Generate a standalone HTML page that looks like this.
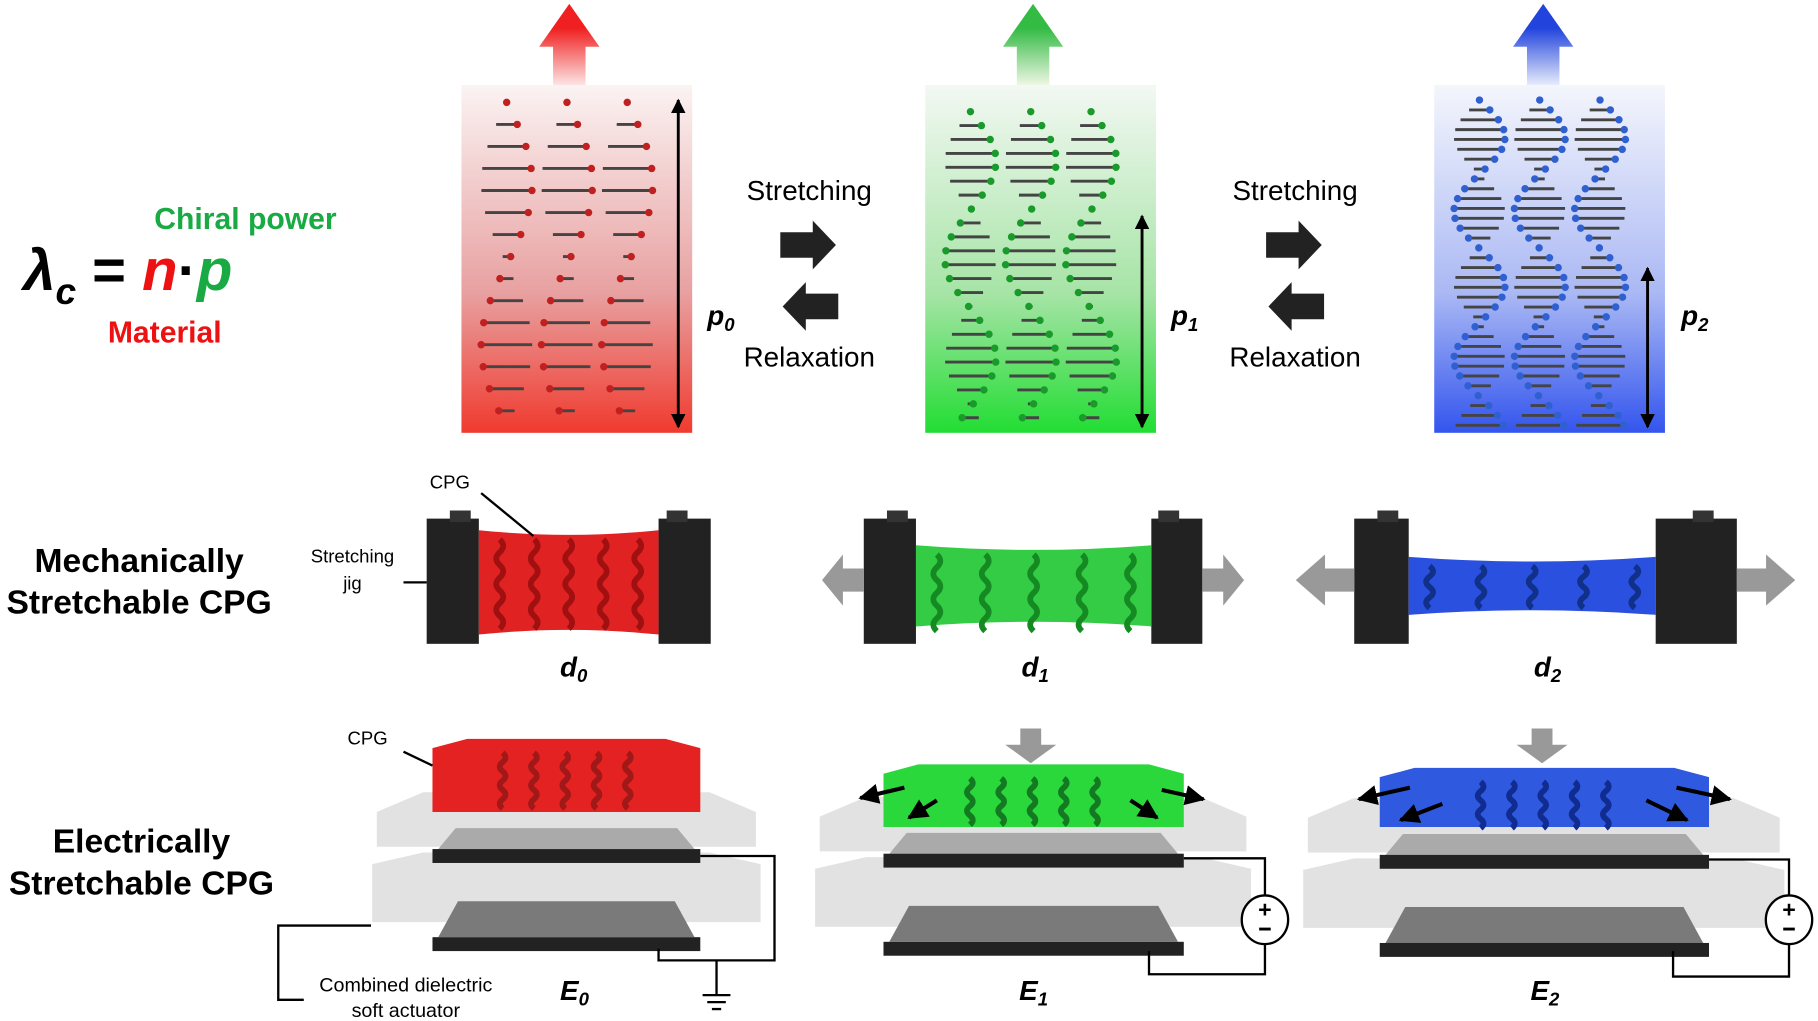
<!DOCTYPE html>
<html><head><meta charset="utf-8"><style>
html,body{margin:0;padding:0;background:#fff;width:1818px;height:1021px;overflow:hidden}
svg{display:block}
text{font-family:"Liberation Sans",sans-serif}
</style></head><body>
<svg id="s" width="1818" height="1021" viewBox="0 0 1568 880" xmlns="http://www.w3.org/2000/svg">
<defs>
<linearGradient id="gr" x1="0" y1="0" x2="0" y2="1"><stop offset="0" stop-color="#fbf3f3"/><stop offset="0.6" stop-color="#e8a0a0"/><stop offset="1" stop-color="#f03a2e"/></linearGradient>
<linearGradient id="gg" x1="0" y1="0" x2="0" y2="1"><stop offset="0" stop-color="#f3f8f3"/><stop offset="0.6" stop-color="#a6e4a6"/><stop offset="1" stop-color="#22dd33"/></linearGradient>
<linearGradient id="gb" x1="0" y1="0" x2="0" y2="1"><stop offset="0" stop-color="#f4f6fc"/><stop offset="0.6" stop-color="#aab8f4"/><stop offset="1" stop-color="#3355ee"/></linearGradient>
<linearGradient id="ar" x1="0" y1="0" x2="0" y2="1"><stop offset="0.3" stop-color="#f02020"/><stop offset="1" stop-color="#fde4e4"/></linearGradient>
<linearGradient id="ag" x1="0" y1="0" x2="0" y2="1"><stop offset="0.3" stop-color="#33bb44"/><stop offset="1" stop-color="#eef6e4"/></linearGradient>
<linearGradient id="ab" x1="0" y1="0" x2="0" y2="1"><stop offset="0.3" stop-color="#2244dd"/><stop offset="1" stop-color="#e6ecfa"/></linearGradient>
<marker id="ah" viewBox="0 0 10 10" refX="9" refY="5" markerWidth="5" markerHeight="5" orient="auto-start-reverse"><path d="M0,0L10,5L0,10z" fill="#000"/></marker>
</defs>
</svg>
<script>
var s=document.getElementById('s');var NS='http://www.w3.org/2000/svg';
function el(t,a,txt){var e=document.createElementNS(NS,t);for(var k in a)e.setAttribute(k,a[k]);if(txt!=null)e.textContent=txt;s.appendChild(e);return e;}
[[398,'gr','ar',465,'#c02020'],[798,'gg','ag',865,'#1a9a2a'],[1237,'gb','ab',1305,'#3060d0']].forEach(function(b,i){
 var x=b[0];
 el('path',{d:'M'+(b[3]+12)+',70 V40 H'+b[3]+' L'+(b[3]+26)+',3 L'+(b[3]+52)+',40 H'+(b[3]+40)+' V73 H'+(b[3]+12)+'z',fill:'url(#'+b[2]+')'});
 el('rect',{x:x,y:73,width:199,height:300,fill:'url(#'+b[1]+')'});
 var sp=[19,12,8.5][i],hp=[140,85,64][i],off=[88,96,86][i];
 for(var c=0;c<3;c++){var cx=x+39+c*52;
  for(var y=off;y<370;y+=sp){var L=22*Math.abs(Math.sin(Math.PI*(y-off)/hp));
   var ph=Math.floor((y-off)/hp)%2;
   el('line',{x1:cx-L,y1:y,x2:cx+L,y2:y,stroke:'#444',"stroke-width":2.5});
   el('circle',{cx:ph?cx-L:cx+L,cy:y,r:3.2,fill:b[4]});
  }}
});
[[585,83,0,610],[985,183,1,1010],[1421,228,2,1450]].forEach(function(a){
 el('line',{x1:a[0],y1:a[1]+3,x2:a[0],y2:368,stroke:'#000',"stroke-width":2.5,"marker-start":'url(#ah)',"marker-end":'url(#ah)'});
 var t=el('text',{x:a[3],y:280,"font-size":24,"font-weight":"bold","font-style":"italic"},'p');
 var ts=document.createElementNS(NS,'tspan');ts.setAttribute('font-size',16);ts.setAttribute('dy',5);ts.textContent=a[2];t.appendChild(ts);
});
[698,1117].forEach(function(x){
 el('text',{x:x,y:172,"font-size":24,"text-anchor":"middle"},'Stretching');
 el('text',{x:x,y:316,"font-size":24,"text-anchor":"middle"},'Relaxation');
 var l=x-25;
 el('path',{d:'M'+l+',200 h28 v-10 l20,21 l-20,21 v-10 h-28z',fill:'#222'});
 el('path',{d:'M'+(l+50)+',253 h-28 v-10 l-20,21 l20,21 v-10 h28z',fill:'#222'});
});
el('text',{x:133,y:197,"font-size":26,"font-weight":"bold",fill:'#1aaa44'},'Chiral power');
el('text',{x:93,y:295,"font-size":26,"font-weight":"bold",fill:'#ee1111'},'Material');
var f=el('text',{x:20,y:250,"font-size":50,"font-weight":"bold","font-style":"italic"});
f.innerHTML='<tspan>λ</tspan><tspan font-size="32" dy="12">c</tspan><tspan dy="-12" font-style="normal"> = </tspan><tspan fill="#ee1111">n</tspan><tspan font-style="normal">·</tspan><tspan fill="#1aaa44">p</tspan>';
['Mechanically','Stretchable CPG'].forEach(function(t,i){el('text',{x:120,y:493+i*36,"font-size":29,"font-weight":"bold","text-anchor":"middle"},t)});
['Electrically','Stretchable CPG'].forEach(function(t,i){el('text',{x:122,y:735+i*36,"font-size":29,"font-weight":"bold","text-anchor":"middle"},t)});
function wav(x,y1,y2,col,amp,per){var d='M'+x+','+y1;for(var y=y1;y<y2;y+=per/2){d+=' q'+(amp*((Math.round((y-y1)/(per/2))%2)?-1:1))+','+per/4+' 0,'+per/2;}el('path',{d:d,stroke:col,"stroke-width":5,fill:'none'});}
function jig(l1,l2,r1,r2,top,bot,bt,bb,col,dk,per){
 el('rect',{x:l1,y:top,width:l2-l1,height:bot-top,fill:'#222'});
 el('rect',{x:r1,y:top,width:r2-r1,height:bot-top,fill:'#222'});
 el('rect',{x:l1+20,y:top-7,width:18,height:10,fill:'#333'});el('rect',{x:r2-38,y:top-7,width:18,height:10,fill:'#333'});
 el('path',{d:'M'+l2+','+bt+' Q'+((l2+r1)/2)+','+(bt+8)+' '+r1+','+bt+' V'+bb+' Q'+((l2+r1)/2)+','+(bb-8)+' '+l2+','+bb+'z',fill:col});
 for(var i=0;i<5;i++){wav(l2+18+i*(r1-l2-36)/4,bt+8,bb-6,dk,6,per);}
}
jig(368,413,568,613,447,555,457,547,'#e02222','#a01010',22);
jig(745,790,993,1037,447,555,470,540,'#33cc44','#168a22',22);
jig(1168,1215,1428,1498,447,555,480,530,'#2a50e0','#10308a',18);
function harr(x,dir){el('path',{d:'M'+x+',490 h'+(dir*18)+' v-12 l'+(dir*18)+',22 l'+(-dir*18)+',22 v-12 h'+(-dir*18)+'z',fill:'#999'});}
harr(745,-1);harr(1037,1);harr(1168,-1.4);harr(1498,1.4);
el('text',{x:388,y:421,"font-size":16,"text-anchor":"middle"},'CPG');
el('line',{x1:415,y1:425,x2:460,y2:462,stroke:'#000',"stroke-width":2});
el('text',{x:304,y:485,"font-size":16,"text-anchor":"middle"},'Stretching');
el('text',{x:304,y:508,"font-size":16,"text-anchor":"middle"},'jig');
el('line',{x1:348,y1:502,x2:368,y2:502,stroke:'#000',"stroke-width":2});
[[493,'d',0,583],[891,'d',1,583],[1333,'d',2,583],[493,'E',0,862],[889,'E',1,862],[1330,'E',2,862]].forEach(function(a){
 var t=el('text',{x:a[0]-10,y:a[3],"font-size":24,"font-weight":"bold","font-style":"italic"},a[1]);
 var ts=document.createElementNS(NS,'tspan');ts.setAttribute('font-size',16);ts.setAttribute('dy',5);ts.textContent=a[2];t.appendChild(ts);
});
function act(px1,px2,ex1,ex2,blkTop,blkBot,col,dk,o){
 el('path',{d:'M'+px1+','+(700+o)+' L'+(px1+40)+','+(683+o)+' H'+(px2-40)+' L'+px2+','+(700+o)+' V'+(730+o)+' H'+px1+'z',fill:'#ddd',opacity:0.85});
 el('path',{d:'M'+(px1-4)+','+(745+o)+' L'+(px1+40)+','+(735+o)+' H'+(px2-40)+' L'+(px2+4)+','+(745+o)+' V'+(795+o)+' H'+(px1-4)+'z',fill:'#e2e2e2'});
 el('path',{d:'M'+(ex1+5)+','+(732+o)+' L'+(ex1+20)+','+(714+o)+' H'+(ex2-20)+' L'+(ex2-5)+','+(732+o)+'z',fill:'#aaa'});
 el('rect',{x:ex1,y:732+o,width:ex2-ex1,height:12,fill:'#222'});
 el('path',{d:'M'+(ex1+5)+','+(808+o)+' L'+(ex1+22)+','+(777+o)+' H'+(ex2-22)+' L'+(ex2-5)+','+(808+o)+'z',fill:'#7a7a7a'});
 el('rect',{x:ex1,y:808+o,width:ex2-ex1,height:12,fill:'#222'});
 el('path',{d:'M'+blkTop[0]+','+(blkTop[2]+8)+' L'+(blkTop[0]+30)+','+blkTop[2]+' H'+(blkTop[1]-30)+' L'+blkTop[1]+','+(blkTop[2]+8)+' V'+blkBot+' H'+blkTop[0]+'z',fill:col});
 var w=blkTop[1]-blkTop[0];
 for(var i=0;i<5;i++){wav(blkTop[0]+w/2-55+i*27,blkTop[2]+12,blkBot-5,dk,5,16);}
}
act(325,652,373,604,[373,604,637],700,'#e52222','#a01818',0);
act(707,1075,762,1021,[762,1021,659],713,'#2bd83c','#137a22',4);
act(1128,1535,1190,1474,[1190,1474,662],713,'#2f5ae0','#102c90',5);
el('text',{x:317,y:642,"font-size":16,"text-anchor":"middle"},'CPG');
el('line',{x1:348,y1:648,x2:373,y2:660,stroke:'#000',"stroke-width":2});
el('polyline',{points:'604,738 668,738 668,828 568,828 568,818',fill:'none',stroke:'#000',"stroke-width":2});
el('line',{x1:618,y1:828,x2:618,y2:858,stroke:'#000',"stroke-width":2});
[[606,630,858],[610,626,864],[614,622,870]].forEach(function(g){el('line',{x1:g[0],y1:g[2],x2:g[1],y2:g[2],stroke:'#000',"stroke-width":2})});
el('polyline',{points:'320,798 240,798 240,862 262,862',fill:'none',stroke:'#000',"stroke-width":2});
el('text',{x:350,y:855,"font-size":17,"text-anchor":"middle"},'Combined dielectric');
el('text',{x:350,y:877,"font-size":17,"text-anchor":"middle"},'soft actuator');
function bat(x1,x2,cx,yt,yb){
 el('polyline',{points:x1+','+yt+' '+cx+','+yt+' '+cx+',773',fill:'none',stroke:'#000',"stroke-width":2});
 el('polyline',{points:cx+',813 '+cx+','+yb+' '+x2+','+yb+' '+x2+',820',fill:'none',stroke:'#000',"stroke-width":2});
 el('ellipse',{cx:cx,cy:793,rx:20,ry:21,fill:'#fff',stroke:'#000',"stroke-width":2});
 el('text',{x:cx,y:791,"font-size":20,"font-weight":"bold","text-anchor":"middle"},'+');
 el('line',{x1:cx-5,y1:801,x2:cx+5,y2:801,stroke:'#000',"stroke-width":2.5});
}
bat(1021,991,1091,740,840);bat(1474,1443,1543,741,842);
[889,1330].forEach(function(x){el('path',{d:'M'+(x-9)+',628 h18 v14 h13 l-22,16 l-22,-16 h13z',fill:'#999'})});
function sa(x1,y1,x2,y2){el('line',{x1:x1,y1:y1,x2:x2,y2:y2,stroke:'#000',"stroke-width":3.5,"marker-end":'url(#ah)'});}
sa(780,679,742,688);sa(808,690,784,705);sa(1002,681,1038,689);sa(975,690,998,705);
sa(1216,679,1172,689);sa(1244,693,1208,707);sa(1446,679,1492,689);sa(1420,690,1455,707);
</script>
</body></html>
